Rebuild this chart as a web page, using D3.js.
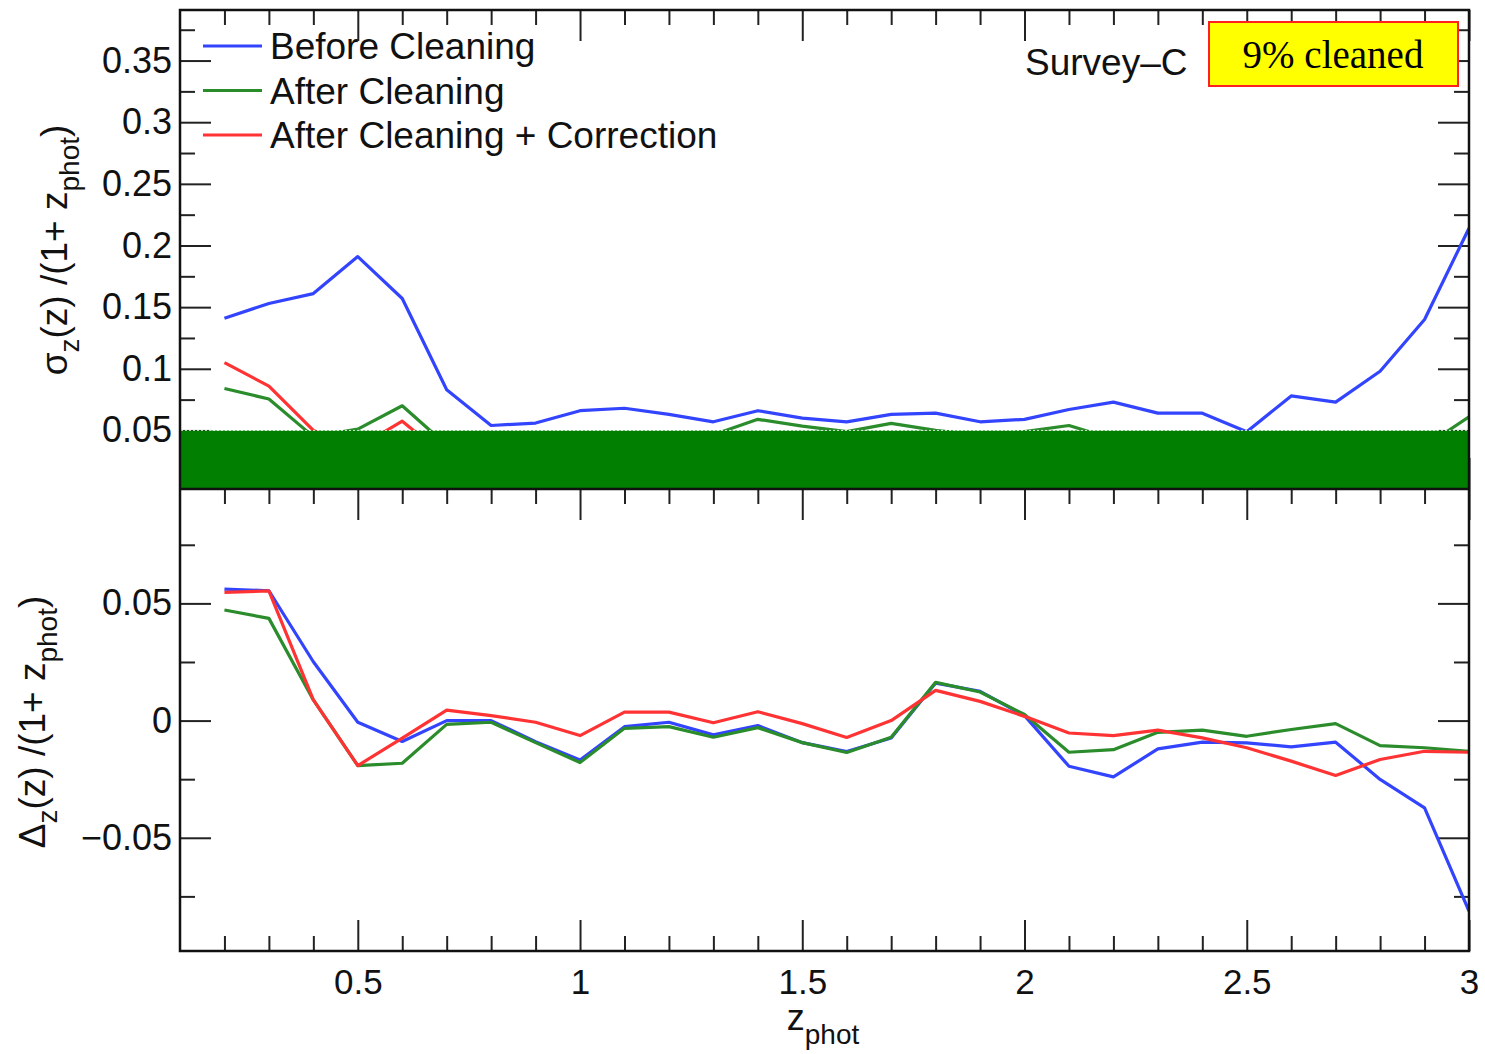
<!DOCTYPE html>
<html><head><meta charset="utf-8">
<script src="https://cdn.jsdelivr.net/npm/d3@7"></script>
<style>body{margin:0;background:#fff}svg{display:block}</style>
</head><body>
<svg id="chart" width="1485" height="1054"></svg>
<script>
// ---------- data ----------
const zphot = [0.2,0.3,0.4,0.5,0.6,0.7,0.8,0.9,1.0,1.1,1.2,1.3,1.4,1.5,1.6,1.7,1.8,1.9,2.0,2.1,2.2,2.3,2.4,2.5,2.6,2.7,2.8,2.9,3.0];
const sigmaBefore = [0.141,0.153,0.161,0.191,0.157,0.083,0.054,0.056,0.066,0.068,0.063,0.057,0.066,0.060,0.057,0.063,0.064,0.057,0.059,0.067,0.073,0.064,0.064,0.049,0.078,0.073,0.098,0.140,0.214];
const sigmaAfter  = [0.084,0.0755,0.045,0.051,0.070,0.038,0.036,0.037,0.040,0.042,0.041,0.0465,0.059,0.0535,0.049,0.0557,0.050,0.046,0.049,0.054,0.043,0.043,0.043,0.038,0.042,0.041,0.040,0.037,0.061];
const sigmaCorr   = [0.105,0.086,0.050,0.036,0.0575,0.028,0.036,0.035,0.037,0.038,0.037,0.036,0.040,0.038,0.036,0.040,0.038,0.036,0.037,0.039,0.040,0.037,0.035,0.033,0.036,0.034,0.033,0.032,0.031];
const deltaBefore = [0.0561,0.0554,0.0251,-0.0007,-0.0089,0.0,0.0,-0.009,-0.0168,-0.0026,-0.0007,-0.0061,-0.0021,-0.0094,-0.0132,-0.0074,0.016,0.0125,0.0021,-0.0195,-0.024,-0.0121,-0.0092,-0.0095,-0.0112,-0.0092,-0.0251,-0.0372,-0.0813];
const deltaAfter  = [0.0472,0.0436,0.0088,-0.0192,-0.0182,-0.0016,-0.0007,-0.0094,-0.0179,-0.0033,-0.0026,-0.0071,-0.003,-0.0094,-0.0136,-0.0071,0.0163,0.0122,0.0026,-0.0135,-0.0124,-0.005,-0.0041,-0.0067,-0.0038,-0.0013,-0.0107,-0.0116,-0.0131];
const deltaCorr   = [0.0547,0.0553,0.0088,-0.0192,-0.0075,0.0045,0.0021,-0.0007,-0.0064,0.0036,0.0036,-0.0009,0.0038,-0.0013,-0.0072,0.0,0.0129,0.0082,0.0018,-0.0053,-0.0064,-0.0041,-0.0074,-0.0116,-0.0173,-0.0234,-0.0166,-0.0131,-0.0135];

const seriesNames  = ["Before Cleaning","After Cleaning","After Cleaning + Correction"];
const seriesColors = ["#3344ff","#2b8c2b","#ff3333"];

const xTicks = [0.5,1,1.5,2,2.5,3];
const xTickLabels = ["0.5","1","1.5","2","2.5","3"];
const sigmaTicks = [0.05,0.1,0.15,0.2,0.25,0.3,0.35];
const sigmaTickLabels = ["0.05","0.1","0.15","0.2","0.25","0.3","0.35"];
const deltaTicks = [-0.05,0,0.05];
const deltaTickLabels = ["\u22120.05","0","0.05"];
const maskLevel = 0.05;           // opaque band covering sigma < 0.05
const surveyLabel = "Survey\u2013C";
const badgeLabel = "9% cleaned";

// ---------- layout ----------
const svg = d3.select("#chart");
const L = 180, R = 1469, T = 10, MID = 489, B = 951;
const FONT = "'Liberation Sans', Arial, Helvetica, sans-serif";

const x = d3.scaleLinear().domain([0.1, 3.0]).range([L, R]);
const ySig = d3.scaleLinear().domain([0.0025, 0.391]).range([MID, T]);
const yDel = d3.scaleLinear().domain([-0.0983, 0.0988]).range([B, MID]);

const xMinor = d3.range(2, 30).map(i => i / 10).filter(v => !xTicks.some(t => Math.abs(t - v) < 1e-9));
const sigMinor = d3.range(1, 16).map(i => i * 0.025).filter(v => !sigmaTicks.some(t => Math.abs(t - v) < 1e-9) && v < 0.391);
const delMinor = [-0.075, -0.025, 0.025, 0.075];

const MAJ = 31, MIN = 15;
const tickColor = "#222";

function styleAxis(g, fontSize) {
  g.select(".domain").remove();
  g.selectAll(".tick line").attr("stroke", tickColor).attr("stroke-width", 2);
  g.selectAll(".tick text").attr("fill", "#111").style("font-family", FONT).style("font-size", fontSize + "px");
}

// ---------- lines ----------
const sigmaSeries = [sigmaBefore, sigmaAfter, sigmaCorr];
const deltaSeries = [deltaBefore, deltaAfter, deltaCorr];

svg.append("clipPath").attr("id", "clipTop").append("rect")
  .attr("x", L).attr("y", T).attr("width", R - L).attr("height", MID - T);
svg.append("clipPath").attr("id", "clipBot").append("rect")
  .attr("x", L).attr("y", MID).attr("width", R - L).attr("height", B - MID);

const lineSig = d3.line().x((d, i) => x(zphot[i])).y(d => ySig(d));
const lineDel = d3.line().x((d, i) => x(zphot[i])).y(d => yDel(d));

// ---------- axes (ticks inward) ----------
function addAxes(yScale, yTop, yBot, majors, majorLabels, minors) {
  const gl = svg.append("g").attr("transform", `translate(${L},0)`)
    .call(d3.axisLeft(yScale).tickValues(majors).tickFormat((d, i) => majorLabels[i]).tickSizeInner(-MAJ).tickSizeOuter(0).tickPadding(8));
  styleAxis(gl, 36);
  const glm = svg.append("g").attr("transform", `translate(${L},0)`)
    .call(d3.axisLeft(yScale).tickValues(minors).tickFormat("").tickSizeInner(-MIN).tickSizeOuter(0));
  styleAxis(glm, 36);
  const gr = svg.append("g").attr("transform", `translate(${R},0)`)
    .call(d3.axisRight(yScale).tickValues(majors).tickFormat("").tickSizeInner(-MAJ).tickSizeOuter(0));
  styleAxis(gr, 36);
  const grm = svg.append("g").attr("transform", `translate(${R},0)`)
    .call(d3.axisRight(yScale).tickValues(minors).tickFormat("").tickSizeInner(-MIN).tickSizeOuter(0));
  styleAxis(grm, 36);
  const gt = svg.append("g").attr("transform", `translate(0,${yTop})`)
    .call(d3.axisTop(x).tickValues(xTicks).tickFormat("").tickSizeInner(-MAJ).tickSizeOuter(0));
  styleAxis(gt, 36);
  const gtm = svg.append("g").attr("transform", `translate(0,${yTop})`)
    .call(d3.axisTop(x).tickValues(xMinor).tickFormat("").tickSizeInner(-MIN).tickSizeOuter(0));
  styleAxis(gtm, 36);
  const gb = svg.append("g").attr("transform", `translate(0,${yBot})`)
    .call(d3.axisBottom(x).tickValues(xTicks).tickFormat("").tickSizeInner(-MAJ).tickSizeOuter(0));
  styleAxis(gb, 36);
  const gbm = svg.append("g").attr("transform", `translate(0,${yBot})`)
    .call(d3.axisBottom(x).tickValues(xMinor).tickFormat("").tickSizeInner(-MIN).tickSizeOuter(0));
  styleAxis(gbm, 36);
}

addAxes(ySig, T, MID, sigmaTicks, sigmaTickLabels, sigMinor);
addAxes(yDel, MID, B, deltaTicks, deltaTickLabels, delMinor);

// x tick labels at the bottom
const gxl = svg.append("g").attr("transform", `translate(0,${B})`)
  .call(d3.axisBottom(x).tickValues(xTicks).tickFormat((d, i) => xTickLabels[i]).tickSize(0).tickPadding(18));
styleAxis(gxl, 35);

// data lines
svg.append("g").attr("clip-path", "url(#clipTop)")
  .selectAll("path").data(sigmaSeries).join("path")
  .attr("d", d => lineSig(d)).attr("fill", "none")
  .attr("stroke", (d, i) => seriesColors[i]).attr("stroke-width", 3.2).attr("stroke-linejoin", "round");

svg.append("g").attr("clip-path", "url(#clipBot)")
  .selectAll("path").data(deltaSeries).join("path")
  .attr("d", d => lineDel(d)).attr("fill", "none")
  .attr("stroke", (d, i) => seriesColors[i]).attr("stroke-width", 3.2).attr("stroke-linejoin", "round");

// opaque mask band (sigma below 0.05)
svg.append("rect")
  .attr("x", L + 1).attr("y", ySig(maskLevel))
  .attr("width", R - L - 2).attr("height", MID - ySig(maskLevel))
  .attr("fill", "#007f00");
svg.append("line")
  .attr("x1", L + 1).attr("x2", R - 1).attr("y1", ySig(maskLevel)).attr("y2", ySig(maskLevel))
  .attr("stroke", "#ffffff").attr("stroke-width", 1).attr("stroke-dasharray", "2,2").attr("opacity", 0.8);

// frames
svg.append("rect").attr("x", L).attr("y", T).attr("width", R - L).attr("height", B - T)
  .attr("fill", "none").attr("stroke", "#111").attr("stroke-width", 2.5);
svg.append("line").attr("x1", L).attr("x2", R).attr("y1", MID).attr("y2", MID)
  .attr("stroke", "#111").attr("stroke-width", 2.5);

// legend
const lg = svg.append("g");
seriesNames.forEach((name, i) => {
  const yy = 46 + i * 44.5;
  lg.append("line").attr("x1", 203).attr("x2", 262).attr("y1", yy).attr("y2", yy)
    .attr("stroke", seriesColors[i]).attr("stroke-width", 3);
  lg.append("text").attr("x", 270).attr("y", yy).attr("dy", "0.36em")
    .style("font-family", FONT).style("font-size", "37px").attr("fill", "#111").text(name);
});

// survey label
svg.append("text").attr("x", 1025).attr("y", 62).attr("dy", "0.36em")
  .style("font-family", FONT).style("font-size", "37px").attr("fill", "#111").text(surveyLabel);

// badge
svg.append("rect").attr("x", 1209).attr("y", 22).attr("width", 249).attr("height", 64)
  .attr("fill", "#ffff00").attr("stroke", "#ff2020").attr("stroke-width", 2);
svg.append("text").attr("x", 1333).attr("y", 55).attr("dy", "0.34em").attr("text-anchor", "middle")
  .style("font-family", "'Liberation Serif', 'Times New Roman', serif").style("font-size", "39px").attr("fill", "#000").text(badgeLabel);

// x axis title: z_phot
const xt = svg.append("text").attr("x", 823).attr("y", 1030).attr("text-anchor", "middle")
  .style("font-family", FONT).style("font-size", "36px").attr("fill", "#111");
xt.append("tspan").text("z");
xt.append("tspan").attr("dy", 14).style("font-size", "28px").text("phot");

// y axis titles
function yTitle(cx, cy, sym) {
  const t = svg.append("text").attr("transform", `translate(${cx},${cy}) rotate(-90)`)
    .attr("text-anchor", "middle").style("font-family", FONT).style("font-size", "37px").attr("fill", "#111");
  t.append("tspan").text(sym);
  t.append("tspan").attr("dy", 12).style("font-size", "28px").text("z");
  t.append("tspan").attr("dy", -12).text("(z) /(1+ z");
  t.append("tspan").attr("dy", 12).style("font-size", "28px").text("phot");
  t.append("tspan").attr("dy", -12).text(")");
}
yTitle(67, 250, "\u03c3");
yTitle(45, 722, "\u0394");
</script>
</body></html>
